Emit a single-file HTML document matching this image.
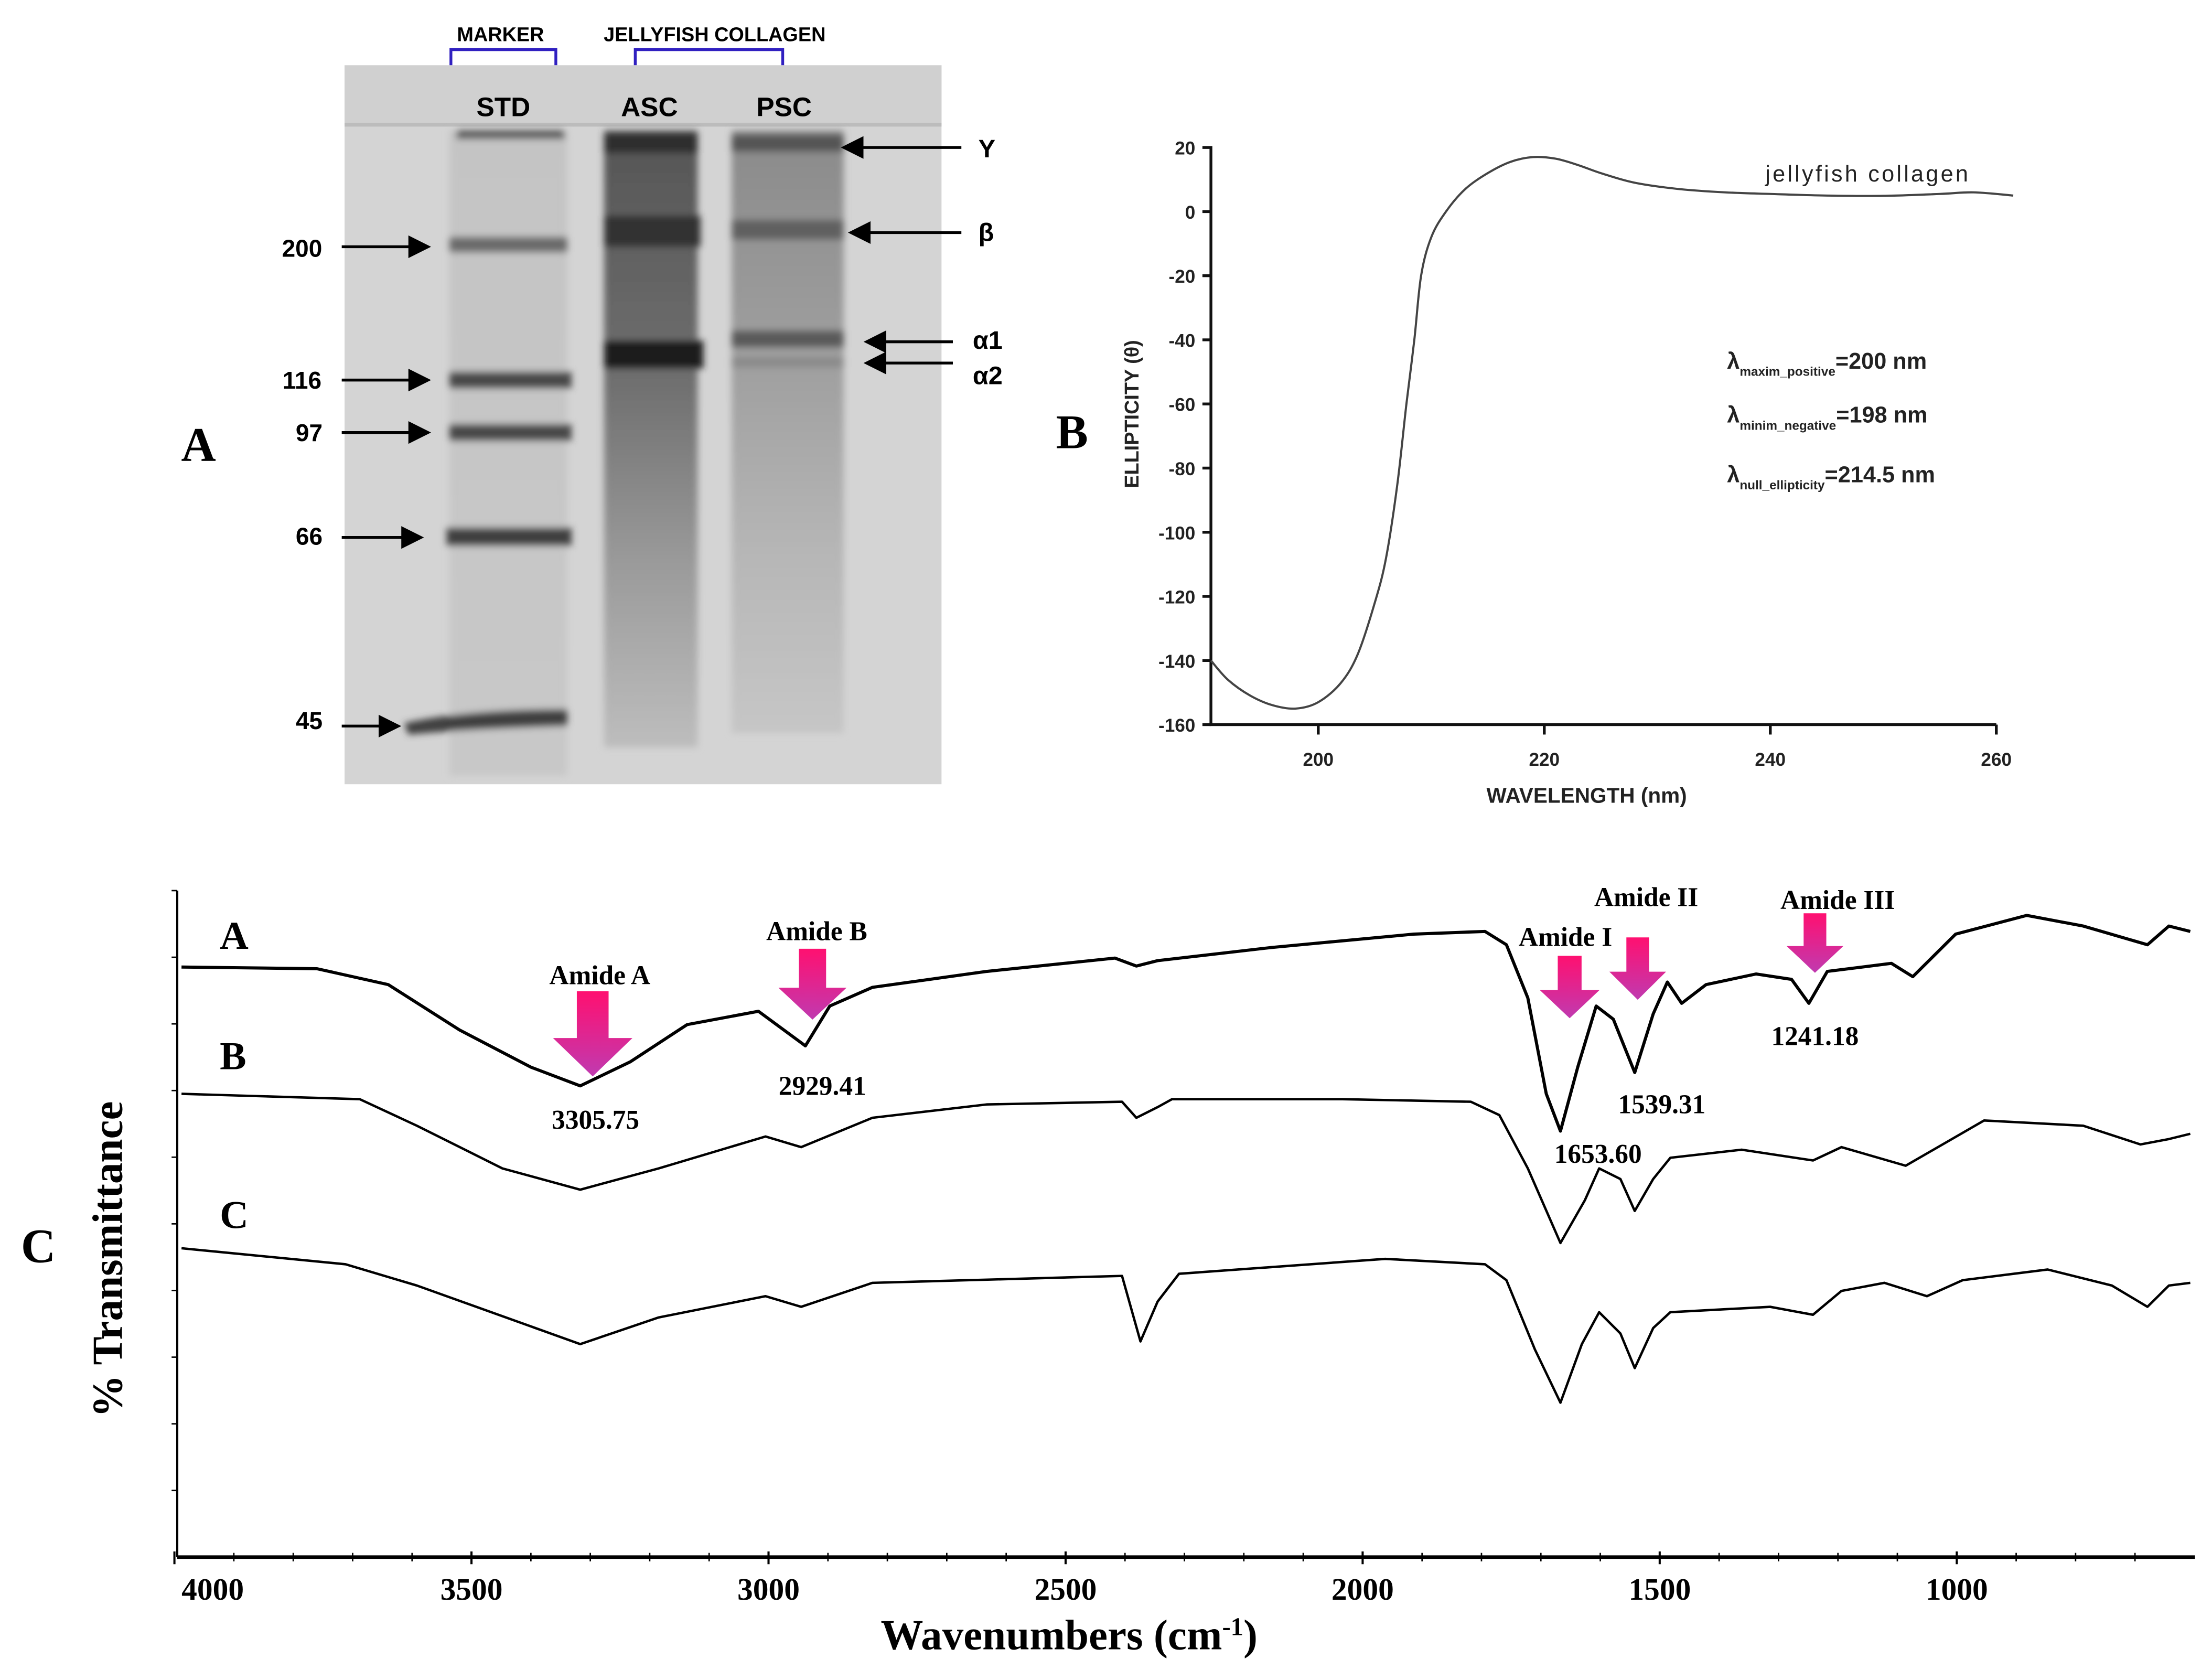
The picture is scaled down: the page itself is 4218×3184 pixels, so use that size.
<!DOCTYPE html>
<html><head><meta charset="utf-8">
<style>
html,body{margin:0;padding:0;background:#fff;}
svg{display:block;}
text{font-family:"Liberation Sans",sans-serif;}
.ser{font-family:"Liberation Serif",serif;font-weight:bold;}
</style></head>
<body>
<svg id="root" width="4218" height="3184" viewBox="0 0 1560 1177.6" xmlns="http://www.w3.org/2000/svg">
<defs>
<linearGradient id="lane1" x1="0" y1="0" x2="0" y2="1"><stop offset="0" stop-color="#c4c4c4"/><stop offset="1" stop-color="#c8c8c8"/></linearGradient>
<linearGradient id="asc" x1="0" y1="0" x2="0" y2="1"><stop offset="0" stop-color="#555"/><stop offset="0.4" stop-color="#6e6e6e"/><stop offset="0.7" stop-color="#9a9a9a"/><stop offset="1" stop-color="#bdbdbd"/></linearGradient>
<linearGradient id="psc" x1="0" y1="0" x2="0" y2="1"><stop offset="0" stop-color="#8a8a8a"/><stop offset="0.4" stop-color="#a0a0a0"/><stop offset="0.7" stop-color="#b6b6b6"/><stop offset="1" stop-color="#c6c6c6"/></linearGradient>
<filter id="blur"><feGaussianBlur stdDeviation="2.5"/></filter>
<marker id="ah" markerWidth="8" markerHeight="8" refX="7" refY="4" orient="auto"><path d="M0,0 L8,4 L0,8 Z" fill="#000"/></marker>
<linearGradient id="pink" x1="0" y1="0" x2="0" y2="1"><stop offset="0" stop-color="#ff1070"/><stop offset="1" stop-color="#c03ab0"/></linearGradient>
</defs>

<g>
<text x="353" y="29" font-size="14" font-weight="bold" text-anchor="middle">MARKER</text>
<text x="504" y="29" font-size="14" font-weight="bold" text-anchor="middle">JELLYFISH COLLAGEN</text>
<path d="M318,46 V35 H392 V46" fill="none" stroke="#3020c0" stroke-width="2"/>
<path d="M448,46 V35 H552 V46" fill="none" stroke="#3020c0" stroke-width="2"/>
<rect x="243" y="46" width="421" height="507" fill="#d4d4d4"/>
<rect x="243" y="46" width="421" height="42" fill="#d0d0d0"/>
<line x1="243" y1="88" x2="664" y2="88" stroke="#bcbcbc" stroke-width="2.5"/>
<g filter="url(#blur)">
<rect x="317" y="92" width="83" height="455" fill="url(#lane1)"/>
<rect x="426" y="92" width="66" height="435" fill="url(#asc)"/>
<rect x="516" y="92" width="79" height="425" fill="url(#psc)"/>
<rect x="322" y="92" width="76" height="6" fill="#555"/>
<rect x="317" y="167" width="83" height="11" fill="#6a6a6a"/>
<rect x="317" y="262" width="86" height="12" fill="#4a4a4a"/>
<rect x="317" y="299" width="86" height="12" fill="#4a4a4a"/>
<rect x="315" y="372" width="88" height="13" fill="#404040"/>
<path d="M285,510 Q330,500 400,500 L400,512 Q330,514 288,518 Z" fill="#404040"/>
<rect x="426" y="94" width="66" height="14" fill="#2e2e2e"/>
<rect x="426" y="152" width="68" height="22" fill="#333"/>
<rect x="426" y="240" width="70" height="20" fill="#1e1e1e"/>
<rect x="516" y="95" width="79" height="12" fill="#555"/>
<rect x="516" y="155" width="79" height="14" fill="#606060"/>
<rect x="516" y="233" width="79" height="12" fill="#5a5a5a"/>
<rect x="516" y="252" width="79" height="7" fill="#8a8a8a"/>
</g>
<text x="355" y="82" font-size="19" font-weight="bold" text-anchor="middle">STD</text>
<text x="458" y="82" font-size="19" font-weight="bold" text-anchor="middle">ASC</text>
<text x="553" y="82" font-size="19" font-weight="bold" text-anchor="middle">PSC</text>
<g font-size="17" font-weight="bold" text-anchor="middle">
<text x="213" y="181">200</text><line x1="241" y1="174" x2="302" y2="174" stroke="#000" stroke-width="2" marker-end="url(#ah)"/>
<text x="213" y="274">116</text><line x1="241" y1="268" x2="302" y2="268" stroke="#000" stroke-width="2" marker-end="url(#ah)"/>
<text x="218" y="311">97</text><line x1="241" y1="305" x2="302" y2="305" stroke="#000" stroke-width="2" marker-end="url(#ah)"/>
<text x="218" y="384">66</text><line x1="241" y1="379" x2="297" y2="379" stroke="#000" stroke-width="2" marker-end="url(#ah)"/>
<text x="218" y="514">45</text><line x1="241" y1="512" x2="281" y2="512" stroke="#000" stroke-width="2" marker-end="url(#ah)"/>
</g>
<g font-size="18" font-weight="bold">
<line x1="678" y1="104" x2="595" y2="104" stroke="#000" stroke-width="2" marker-end="url(#ah)"/><text x="690" y="111">Y</text>
<line x1="678" y1="164" x2="600" y2="164" stroke="#000" stroke-width="2" marker-end="url(#ah)"/><text x="690" y="170">β</text>
<line x1="672" y1="241" x2="611" y2="241" stroke="#000" stroke-width="2" marker-end="url(#ah)"/><text x="686" y="246">α1</text>
<line x1="672" y1="256" x2="611" y2="256" stroke="#000" stroke-width="2" marker-end="url(#ah)"/><text x="686" y="271">α2</text>
</g>
<text x="140" y="325" class="ser" font-size="34" text-anchor="middle">A</text>
</g>

<g id="cd">
<text x="756" y="316" class="ser" font-size="34" text-anchor="middle">B</text>
</g>

<g id="ftir">
<text x="27" y="890" class="ser" font-size="34" text-anchor="middle">C</text>
</g>
</svg>

<script>
const NS='http://www.w3.org/2000/svg';
function mk(parent,tag,attrs,txt){const e=document.createElementNS(NS,tag);for(const k in attrs)e.setAttribute(k,attrs[k]);if(txt!==undefined)e.textContent=txt;parent.appendChild(e);return e;}

// ---------- CD data ----------
const cdWavelengths=[190.5,192,194,196,198,200,202,203.5,205,206,207,207.8,208.5,209.1,210,211.3,213,215,217,219,221,223,225,228,232,236,240,245,250,255,258,261.5];
const cdEllipticity=[-140,-146,-151,-154,-155,-153,-147,-138,-122,-108,-85,-60,-40,-20,-8,0,7,12,15.5,17,16.5,14.5,12,9,7,6,5.5,5,4.9,5.5,6,5];
const cdXTicks=[200,220,240,260];
const cdYTicks=[20,0,-20,-40,-60,-80,-100,-120,-140,-160];
const cdX=w=>929.7+(w-200)*7.97;
const cdY=v=>149.2-v*2.261;
const cd=document.getElementById('cd');
let e;
e=mk(cd,'line',{x1:854,y1:cdY(20)-1,x2:854,y2:cdY(-160),stroke:'#111','stroke-width':2});


e=mk(cd,'line',{x1:853,y1:cdY(-160),x2:cdX(260),y2:cdY(-160),stroke:'#111','stroke-width':2});


cdYTicks.forEach(t=>{
  mk(cd,'line',{x1:848,y1:cdY(t),x2:854,y2:cdY(t),stroke:'#111','stroke-width':2});
  e=mk(cd,'text',{x:843,y:cdY(t)+5,'font-size':13,'font-weight':'bold',fill:'#222','text-anchor':'end'},t);
  
  
});
cdXTicks.forEach(t=>{
  mk(cd,'line',{x1:cdX(t),y1:cdY(-160),x2:cdX(t),y2:cdY(-160)+7,stroke:'#111','stroke-width':2});
  e=mk(cd,'text',{x:cdX(t),y:540,'font-size':13,'font-weight':'bold',fill:'#222','text-anchor':'middle'},t);
  
  
});
e=mk(cd,'text',{x:1119,y:566,'font-size':15,'font-weight':'bold',fill:'#222','text-anchor':'middle'},'WAVELENGTH (nm)');


e=mk(cd,'text',{x:0,y:0,'font-size':14,'font-weight':'bold',fill:'#222','text-anchor':'middle',transform:'translate(803,292) rotate(-90)'},'ELLIPTICITY (θ)');


{
  const p=cdWavelengths.map((w,i)=>[cdX(w),cdY(cdEllipticity[i])]);
  let d='M'+p[0][0]+','+p[0][1];
  for(let i=0;i<p.length-1;i++){const p0=p[Math.max(0,i-1)],p1=p[i],p2=p[i+1],p3=p[Math.min(p.length-1,i+2)];
    d+=' C'+(p1[0]+(p2[0]-p0[0])/6)+','+(p1[1]+(p2[1]-p0[1])/6)+' '+(p2[0]-(p3[0]-p1[0])/6)+','+(p2[1]-(p3[1]-p1[1])/6)+' '+p2[0]+','+p2[1];}
  e=mk(cd,'path',{d:d,fill:'none',stroke:'#444','stroke-width':1.5});
  
  
}
e=mk(cd,'text',{x:1245,y:128,'font-size':16,fill:'#222',textLength:143},'jellyfish collagen');


const cdNotes=[['maxim_positive','=200 nm',260],['minim_negative','=198 nm',298],['null_ellipticity','=214.5 nm',340]];
cdNotes.forEach(n=>{
  const t=mk(cd,'text',{x:1218,y:n[2],'font-size':16,'font-weight':'bold',fill:'#222'});
  mk(t,'tspan',{},'λ');
  mk(t,'tspan',{'font-size':9,dy:5},n[0]);
  mk(t,'tspan',{dy:-5},n[1]);
  
  
});

// ---------- FTIR data ----------
const ftirWaveA=[3988,3760,3640,3520,3400,3317,3233,3137,3017,2938,2897,2825,2633,2417,2381,2345,2153,1914,1794,1758,1722,1691,1667,1638,1607,1578,1542,1511,1487,1463,1422,1338,1278,1249,1218,1110,1074,1002,882,787,679,643,607];
const ftirTransA=[1108,1105,1075,990,920,885,930,1000,1025,960,1035,1070,1100,1125,1110,1120,1145,1170,1175,1150,1050,870,800,920,1035,1010,910,1020,1080,1040,1075,1095,1085,1040,1100,1115,1090,1170,1205,1185,1150,1185,1175];
const ftirWaveB=[3988,3688,3592,3448,3317,3185,3005,2945,2825,2633,2405,2381,2345,2321,2034,1818,1770,1722,1667,1626,1602,1566,1542,1511,1482,1362,1242,1194,1086,954,787,691,643,607];
const ftirTransB=[870,860,810,730,690,730,790,770,825,850,855,825,845,860,860,855,830,730,590,670,730,710,650,710,750,765,745,770,735,820,810,775,785,795];
const ftirWaveC=[3988,3712,3592,3317,3185,3005,2945,2825,2405,2374,2345,2309,1962,1794,1758,1710,1667,1631,1602,1566,1542,1511,1482,1314,1242,1194,1122,1050,990,847,739,679,643,607];
const ftirTransC=[580,550,510,400,450,490,470,515,528,405,480,532,560,550,520,390,290,400,460,420,355,430,460,470,455,500,515,490,520,540,510,470,510,515];
const ftirXTicks=[4000,3500,3000,2500,2000,1500,1000];
const ftirX=w=>1380-(w-1000)*0.419;
const ftirY=v=>1098-v*0.3755;
const ft=document.getElementById('ftir');
e=mk(ft,'line',{x1:125,y1:628,x2:125,y2:1098,stroke:'#000','stroke-width':1.5});


e=mk(ft,'line',{x1:125,y1:1098,x2:1548,y2:1098,stroke:'#000','stroke-width':2.5});


for(let yy=628;yy<1098;yy+=47){mk(ft,'line',{x1:121,y1:yy,x2:125,y2:yy,stroke:'#000'});}
for(let w=4000;w>=700;w-=100){mk(ft,'line',{x1:ftirX(w),y1:1095,x2:ftirX(w),y2:1101,stroke:'#000','stroke-width':1});}
ftirXTicks.forEach(t=>{
  mk(ft,'line',{x1:ftirX(t),y1:1094,x2:ftirX(t),y2:1103,stroke:'#000','stroke-width':1.5});
  e=mk(ft,'text',{x:Math.max(ftirX(t),150),y:1128,'font-size':22,'text-anchor':'middle',class:'ser'},t);
  
  
});
e=mk(ft,'text',{x:754,y:1163,'font-size':30,'text-anchor':'middle',class:'ser'});
mk(e,'tspan',{},'Wavenumbers (cm');
mk(e,'tspan',{'font-size':18,dy:-10},'-1');
mk(e,'tspan',{dy:10},')');


e=mk(ft,'text',{x:0,y:0,'font-size':30,'text-anchor':'middle',class:'ser',transform:'translate(86,888) rotate(-90)'},'% Transmittance');


function spec(ws,vs,name,sw){
  const d=ws.map((w,i)=>(i?'L':'M')+ftirX(w).toFixed(1)+','+ftirY(vs[i]).toFixed(1)).join(' ');
  const p=mk(ft,'path',{d:d,fill:'none',stroke:'#000','stroke-width':sw,'stroke-linejoin':'round'});
  
  
}
spec(ftirWaveA,ftirTransA,'ftir-series-a',2.2);
spec(ftirWaveB,ftirTransB,'ftir-series-b',1.7);
spec(ftirWaveC,ftirTransC,'ftir-series-c',1.7);
[['A',155,669],['B',155,754],['C',155,866]].forEach(s=>{
  e=mk(ft,'text',{x:s[1],y:s[2],'font-size':28,class:'ser'},s[0]);
  
  
});
const peakLabels=['3305.75','2929.41','1653.60','1539.31','1241.18'];
const peakLabelPos=[[420,796],[580,772],[1127,820],[1172,785],[1280,737]];
peakLabels.forEach((t,i)=>{
  e=mk(ft,'text',{x:peakLabelPos[i][0],y:peakLabelPos[i][1],'font-size':19,'text-anchor':'middle',class:'ser'},t);
  
  
});
const arrows=[['Amide A',418,699,56,60],['Amide B',573,669,48,50],['Amide I',1107,674,42,44],['Amide II',1155,661,40,44],['Amide III',1280,644,40,42]];
const arrowTitles=[[423,694],[576,663],[1104,667],[1161,639],[1296,641]];
arrows.forEach((a,i)=>{
  const x=a[1],y=a[2],w=a[3],h=a[4];
  const sw=w*0.4;
  const d=`M${x-sw/2},${y} H${x+sw/2} V${y+h*0.55} H${x+w/2} L${x},${y+h} L${x-w/2},${y+h*0.55} H${x-sw/2} Z`;
  const g=mk(ft,'path',{d:d,fill:'url(#pink)'});
  
  
  const t=mk(ft,'text',{x:arrowTitles[i][0],y:arrowTitles[i][1],'font-size':19,'text-anchor':'middle',class:'ser'},a[0]);
  
  
});
</script>
</body></html>
